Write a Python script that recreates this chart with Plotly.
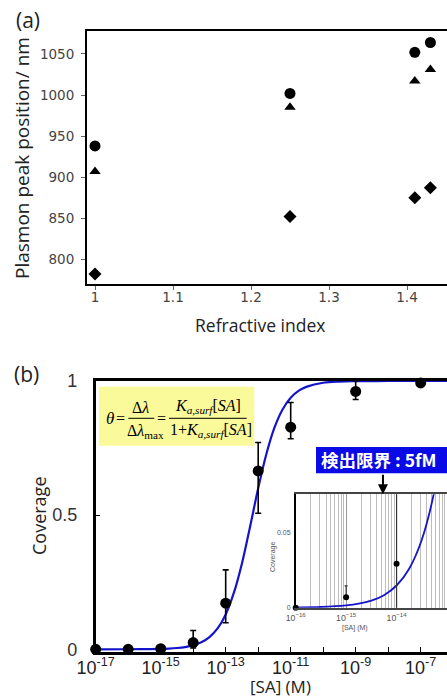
import plotly.graph_objects as go

W, H = 447, 697

# ---------------- data (a) ----------------
ri = [1.0, 1.25, 1.41, 1.43]
peak_circle = [938, 1002, 1052, 1064]
peak_triangle = [907, 985, 1017, 1031]
peak_diamond = [782, 852, 875, 887]
a_xticks = [1.0, 1.1, 1.2, 1.3, 1.4]
a_xtext = ["1", "1.1", "1.2", "1.3", "1.4"]
a_yticks = [800, 850, 900, 950, 1000, 1050]

# ---------------- data (b) ----------------
sa_log = [-17, -16, -15, -14, -13, -12, -11, -9, -7]
coverage = [0.0, 0.0, 0.002, 0.025, 0.172, 0.665, 0.828, 0.961, 0.993]
err_plus = [0, 0, 0, 0.045, 0.124, 0.106, 0.092, 0.04, 0]
err_minus = [0, 0, 0, 0.02, 0.073, 0.158, 0.043, 0.03, 0]

fit_log = [-17, -16, -15.5, -15, -14.75, -14.5, -14.25, -14, -13.75, -13.5, -13.25,
           -13, -12.75, -12.5, -12.25, -12, -11.75, -11.5, -11.25, -11, -10.75,
           -10.5, -10, -9.5, -9, -8, -7, -6]
fit_cov = [0.0, 0.00015, 0.00047, 0.0015, 0.00266, 0.00472, 0.00836, 0.0148, 0.026,
           0.0453, 0.0778, 0.13, 0.21, 0.32, 0.457, 0.60, 0.727, 0.826, 0.894,
           0.9375, 0.964, 0.979, 0.9934, 0.9979, 0.9993, 1.0, 1.0, 1.0]

b_xtick_log = [-17, -16, -15, -14, -13, -12, -11, -10, -9, -8, -7]
b_yticks = [0, 0.5, 1]
b_ytext = ["0", "0.5", "1"]

# inset
in_log = [-16, -15, -14]
in_cov = [0.0, 0.0069, 0.0293]
in_err_plus = [0, 0.0076, 0.05]
in_err_minus = [0, 0, 0.03]
in_yticks = [0, 0.05]
in_ytext = ["0", "0.05"]
lod_log = -14.27  # 5 fM


def px(x):
    return x / W


def py(y):
    return 1 - y / H


def sup(v):
    return "10<sup>%d</sup>" % v


fig = go.Figure()

# ---- (a) ----
fig.add_trace(go.Scatter(x=ri, y=peak_circle, mode="markers", xaxis="x", yaxis="y",
                         marker=dict(symbol="circle", size=11, color="black"), cliponaxis=False))
fig.add_trace(go.Scatter(x=ri, y=peak_triangle, mode="markers", xaxis="x", yaxis="y",
                         marker=dict(symbol="triangle-up", size=10, color="black"), cliponaxis=False))
fig.add_trace(go.Scatter(x=ri, y=peak_diamond, mode="markers", xaxis="x", yaxis="y",
                         marker=dict(symbol="diamond", size=10, color="black"), cliponaxis=False))

# ---- (b) ----
fig.add_trace(go.Scatter(x=[10 ** v for v in fit_log], y=fit_cov, mode="lines", xaxis="x2", yaxis="y2",
                         line=dict(color="#1414c8", width=2.2, shape="spline")))
fig.add_trace(go.Scatter(x=[10 ** v for v in sa_log], y=coverage, mode="markers", xaxis="x2", yaxis="y2",
                         marker=dict(size=11, color="black"), cliponaxis=False,
                         error_y=dict(type="data", symmetric=False, array=err_plus, arrayminus=err_minus,
                                      color="black", thickness=1.6, width=3)))

# ---- inset ----
fig.add_trace(go.Scatter(x=[10 ** v for v in fit_log], y=fit_cov, mode="lines", xaxis="x3", yaxis="y3",
                         line=dict(color="#1414c8", width=1.8, shape="spline")))
fig.add_trace(go.Scatter(x=[10 ** v for v in in_log], y=in_cov, mode="markers", xaxis="x3", yaxis="y3",
                         marker=dict(size=6, color="black"), cliponaxis=False,
                         error_y=dict(type="data", symmetric=False, array=in_err_plus, arrayminus=in_err_minus,
                                      color="#333", thickness=1.2, width=1.5)))

tickfont_a = dict(family="DejaVu Sans", size=13.5, color="#444")
tickfont_bx = dict(family="Liberation Sans", size=18, color="#222")
tickfont_by = dict(family="Liberation Sans", size=18, color="#333")

fig.update_layout(
    width=W, height=H, margin=dict(l=0, r=0, t=0, b=0, autoexpand=False),
    paper_bgcolor="white", plot_bgcolor="white", showlegend=False,
    xaxis=dict(domain=[px(87), 1], anchor="y", range=[0.98974, 1.45128], automargin=False,
               tickvals=a_xticks, ticktext=a_xtext, tickfont=tickfont_a,
               showline=True, linecolor="black", linewidth=2, mirror=True,
               ticks="outside", ticklen=4, tickcolor="#666", showgrid=False, zeroline=False,
               ticklabelstandoff=-4),
    yaxis=dict(domain=[py(284), py(31)], anchor="x", range=[769.9, 1078], automargin=False,
               tickvals=a_yticks, tickfont=tickfont_a,
               showline=True, linecolor="black", linewidth=2, mirror=False,
               ticks="outside", ticklen=4, tickcolor="#666", showgrid=False, zeroline=False,
               ticklabelstandoff=4),
    xaxis2=dict(domain=[px(95.7), 1], anchor="y2", type="log", range=[-17, -6.19], automargin=False,
                tickvals=[10 ** v for v in b_xtick_log],
                ticktext=[sup(v) if v % 2 else "" for v in b_xtick_log],
                tickfont=tickfont_bx,
                showline=True, linecolor="black", linewidth=2.5, mirror=True,
                ticks="inside", ticklen=5, tickcolor="black", showgrid=False, zeroline=False,
                ticklabelstandoff=-2),
    yaxis2=dict(domain=[py(651.7), py(381)], anchor="x2", range=[-0.009, 1.0], automargin=False,
                tickvals=b_yticks, ticktext=b_ytext, tickfont=tickfont_by,
                showline=True, linecolor="black", linewidth=2.5, mirror=False,
                ticks="inside", ticklen=5, tickcolor="black", showgrid=False, zeroline=False,
                ticklabelstandoff=12),
    xaxis3=dict(domain=[px(295.7), 1], anchor="y3", type="log", range=[-16, -13.0], automargin=False,
                dtick=1, exponentformat="power", showexponent="all",
                tickfont=dict(family="Liberation Sans", size=7, color="#555"),
                showline=True, linecolor="#444", linewidth=1.5, mirror=True,
                ticks="", showgrid=True, gridcolor="#999", gridwidth=1,
                minor=dict(dtick="D1", showgrid=True, gridcolor="#bdbdbd", gridwidth=1),
                zeroline=False, ticklabelstandoff=1),
    yaxis3=dict(domain=[py(607.7), py(494.3)], anchor="x3", range=[0, 0.0756], automargin=False,
                tickvals=in_yticks, ticktext=in_ytext,
                tickfont=dict(family="Liberation Sans", size=7, color="#555"),
                showline=True, linecolor="black", linewidth=1.5, mirror=False,
                ticks="", showgrid=False, zeroline=False, ticklabelstandoff=2),
)

ann = []
ann.append(dict(text="(a)", x=px(28), y=py(20), font=dict(family="Open Sans", size=21, color="#222")))
ann.append(dict(text="(b)", x=px(26), y=py(374), font=dict(family="Open Sans", size=21, color="#222")))
ann.append(dict(text="Plasmon peak position/ nm", x=px(22), y=py(158), textangle=-90,
                font=dict(family="Open Sans", size=19, color="#222")))
ann.append(dict(text="Refractive index", x=px(260), y=py(325), font=dict(family="Open Sans", size=17.5, color="#222")))
ann.append(dict(text="Coverage", x=px(39), y=py(516), textangle=-90, font=dict(family="Open Sans", size=18, color="#222")))
ann.append(dict(text="[SA] (M)", x=px(280), y=py(686), font=dict(family="Open Sans", size=17, color="#222")))

# inset titles
small = dict(family="Liberation Sans", size=7, color="#555")
ann.append(dict(text="Coverage", x=px(273), y=py(557), textangle=-90, font=small))
ann.append(dict(text="[SA] (M)", x=px(355), y=py(628), font=small))

# formula
serif = "Liberation Serif"
fs = 16
ann.append(dict(text="<i>θ</i>", x=px(110), y=py(418), font=dict(family=serif, size=fs + 1, color="black")))
ann.append(dict(text="=", x=px(120.5), y=py(418), font=dict(family=serif, size=fs, color="black")))
ann.append(dict(text="Δ<i>λ</i>", x=px(140), y=py(407), font=dict(family=serif, size=fs, color="black")))
ann.append(dict(text="Δ<i>λ</i><sub>max</sub>", x=px(145), y=py(431), font=dict(family=serif, size=fs, color="black")))
ann.append(dict(text="=", x=px(161.7), y=py(418), font=dict(family=serif, size=fs, color="black")))
ann.append(dict(text="<i>K</i><sub><i>a,surf</i></sub>[<i>SA</i>]", x=px(208), y=py(406), font=dict(family=serif, size=fs, color="black")))
ann.append(dict(text="1+<i>K</i><sub><i>a,surf</i></sub>[<i>SA</i>]", x=px(211), y=py(430), font=dict(family=serif, size=fs, color="black")))

# detection-limit label
ann.append(dict(text="<b>検出限界 : 5fM</b>", x=px(319), y=py(460), xanchor="left",
                font=dict(family="Noto Sans CJK JP", size=17.5, color="white")))
ann.append(dict(text="", x=lod_log, y=0.0756, xref="x3", yref="y3", showarrow=True,
                ax=0, ay=-21, arrowhead=2, arrowsize=1, arrowwidth=2, arrowcolor="black"))

for a in ann:
    a.setdefault("xref", "paper")
    a.setdefault("yref", "paper")
    a.setdefault("showarrow", False)
    a.setdefault("xanchor", "center")
    a.setdefault("yanchor", "middle")
fig.update_layout(annotations=ann)

shapes = [
    dict(type="rect", xref="paper", yref="paper", x0=px(99), x1=px(254.3), y0=py(445.7), y1=py(386.7),
         fillcolor="#fbfa9a", line=dict(width=0), layer="above"),
    dict(type="line", xref="paper", yref="paper", x0=px(128.3), x1=px(154.3), y0=py(418.3), y1=py(418.3),
         line=dict(color="black", width=1), layer="above"),
    dict(type="line", xref="paper", yref="paper", x0=px(169), x1=px(246.7), y0=py(418.3), y1=py(418.3),
         line=dict(color="black", width=1), layer="above"),
    dict(type="rect", xref="paper", yref="paper", x0=px(316), x1=px(460), y0=py(473.3), y1=py(447),
         fillcolor="#0a0ae6", line=dict(width=0), layer="above"),
]
fig.update_layout(shapes=shapes)

fig.write_html("out.html")
